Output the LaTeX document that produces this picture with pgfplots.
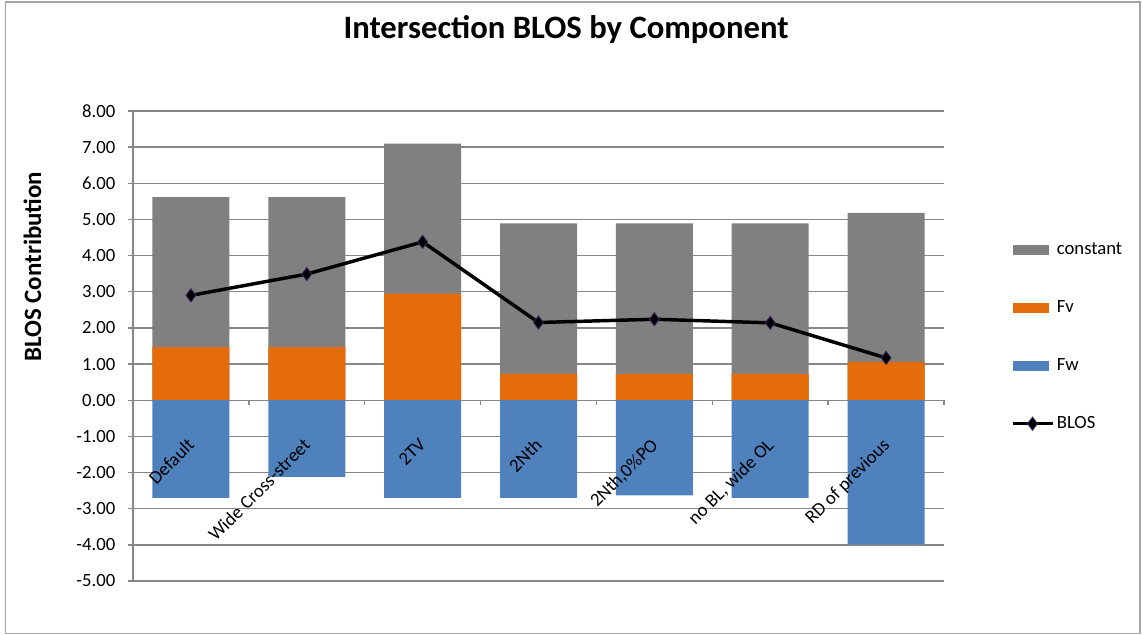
\documentclass[border=0pt]{standalone}
\usepackage{fontspec}
\setmainfont{Carlito}
\usepackage{pgfplots}
\pgfplotsset{compat=1.18}
\usepackage{pgfplotstable}
\definecolor{cconst}{HTML}{808080}
\definecolor{cfv}{HTML}{E46C0A}
\definecolor{cfw}{HTML}{4F81BD}
\definecolor{cgrid}{HTML}{878787}
\definecolor{cframe}{HTML}{A6A6A6}
\definecolor{cmark}{HTML}{3F2B66}

\pgfplotsset{
  barleg/.style={legend image code/.code={\fill[##1] (0pt,-3.75pt) rectangle (27pt,3.75pt);}},
  blosleg/.style={legend image code/.code={\draw[mark repeat=2,mark phase=2,##1] plot coordinates {(0pt,0pt) (15pt,0pt) (30pt,0pt)};}},
}
\tikzset{catlab/.style={xshift=-3.5pt, yshift=-27.5pt, rotate=45, anchor=north east, inner sep=0pt, font=\fontsize{14}{16}\selectfont, black}}

\pgfplotstableread{
x Fw Fv const BLOS
0 -2.70 1.47 4.15 2.90
1 -2.12 1.47 4.15 3.49
2 -2.70 2.95 4.15 4.38
3 -2.70 0.73 4.16 2.15
4 -2.63 0.73 4.16 2.24
5 -2.70 0.73 4.16 2.14
6 -3.99 1.06 4.12 1.17
}\datatable

\begin{document}
\begin{tikzpicture}
\useasboundingbox (0pt,0pt) rectangle (857.25pt,-476.25pt);
\draw[cframe, line width=1pt] (4pt,-1.5pt) rectangle (855pt,-475pt);
\begin{axis}[
  at={(99.75pt,-435.75pt)}, anchor=south west,
  scale only axis, width=608.25pt, height=352.5pt,
  xmin=-0.5, xmax=6.5, ymin=-5, ymax=8,
  axis x line*=middle, axis y line*=left,
  axis line style={cgrid, line width=1pt},
  tick style={cgrid, line width=1pt},
  major tick length=3.75pt,
  tick align=outside,
  ymajorgrids, major grid style={cgrid, line width=1pt},
  ytick={-5,-4,...,8},
  /pgf/number format/assume math mode=true,
  yticklabel style={xshift=-6pt, /pgf/number format/.cd, fixed, fixed zerofill, precision=2},
  tick label style={font=\fontsize{14}{16}\selectfont, black},
  xtick={-0.5,0.5,1.5,2.5,3.5,4.5,5.5,6.5},
  xticklabels={{},{},{},{},{},{},{},{}},
  title={Intersection BLOS by Component},
  title style={font=\bfseries\fontsize{24.5}{28}\selectfont, at={(axis description cs:0.534,1.1368)}, anchor=base},
  ylabel={BLOS Contribution},
  ylabel style={font=\bfseries\fontsize{18.7}{22}\selectfont, at={(axis description cs:-0.1134,0.6687)}, anchor=base},
  barleg,
  legend style={at={(axis description cs:1.082,0.7257)}, anchor=north west, draw=none, fill=none,
    font=\fontsize{14}{16}\selectfont, row sep=29pt, inner sep=0pt,
    /tikz/every even column/.append style={column sep=3pt}},
  legend cell align=left,
]
\addplot[ybar, bar width=57.75pt, bar shift=0pt, fill=cconst, draw=none]
  table[x=x, y expr=\thisrow{Fv}+\thisrow{const}] {\datatable};
\addlegendentry{constant}
\addplot[ybar, bar width=57.75pt, bar shift=0pt, fill=cfv, draw=none]
  table[x=x, y=Fv] {\datatable};
\addlegendentry{Fv}
\addplot[ybar, bar width=57.75pt, bar shift=0pt, fill=cfw, draw=none]
  table[x=x, y=Fw] {\datatable};
\addlegendentry{Fw}
\addplot[black, line width=2.6pt, mark=diamond*, mark size=5pt,
  mark options={fill=black, draw=cmark, line width=0.6pt}, blosleg]
  table[x=x, y=BLOS] {\datatable};
\addlegendentry{BLOS}
\node[catlab] at (axis cs:0,0) {Default};
\node[catlab] at (axis cs:1,0) {Wide Cross-street};
\node[catlab] at (axis cs:2,0) {2TV};
\node[catlab] at (axis cs:3,0) {2Nth};
\node[catlab] at (axis cs:4,0) {2Nth,0\%PO};
\node[catlab] at (axis cs:5,0) {no BL, wide OL};
\node[catlab] at (axis cs:6,0) {RD of previous};
\end{axis}
\end{tikzpicture}
\end{document}
